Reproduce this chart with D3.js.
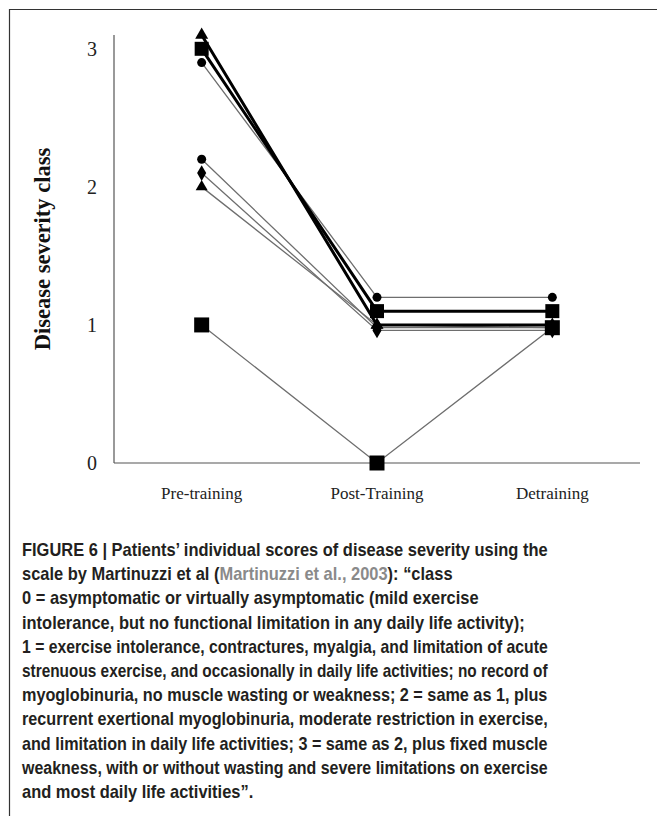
<!DOCTYPE html>
<html>
<head>
<meta charset="utf-8">
<script src="https://cdn.jsdelivr.net/npm/d3@7/dist/d3.min.js"></script>
<style>
  html, body { margin: 0; padding: 0; background: #fff; }
  svg { display: block; }
</style>
</head>
<body>
<svg id="chart" width="657" height="816"></svg>
<script>
// Phases of the training study
const phases = ["Pre-training", "Post-Training", "Detraining"];

// Severity class per patient at each phase (small offsets keep overlapping patients visible)
const patientTriangleA = [3.1, 1.0, 1.0];
const patientSquareA   = [3.0, 1.1, 1.1];
const patientCircleA   = [2.9, 1.2, 1.2];
const patientCircleB   = [2.2, 0.98, 0.98];
const patientDiamond   = [2.1, 0.96, 0.96];
const patientTriangleB = [2.0, 1.0, 0.98];
const patientSquareB   = [1.0, 0.0, 0.98];

const yTicks = [0, 1, 2, 3];

const patients = [
  { values: patientSquareB,   symbol: "square",   heavy: false, size: 15 },
  { values: patientTriangleB, symbol: "triangle", heavy: false, size: 12 },
  { values: patientDiamond,   symbol: "diamond",  heavy: false, size: 12 },
  { values: patientCircleB,   symbol: "circle",   heavy: false, size: 9 },
  { values: patientCircleA,   symbol: "circle",   heavy: false, size: 9 },
  { values: patientSquareA,   symbol: "square",   heavy: true,  size: 14 },
  { values: patientTriangleA, symbol: "triangle", heavy: true,  size: 13 }
];

// Caption lines: [text, isCitation] segments
const captionLines = [
  [["FIGURE 6 | Patients’ individual scores of disease severity using the", false]],
  [["scale by Martinuzzi et al (", false], ["Martinuzzi et al., 2003", true], ["): “class", false]],
  [["0 = asymptomatic or virtually asymptomatic (mild exercise", false]],
  [["intolerance, but no functional limitation in any daily life activity);", false]],
  [["1 = exercise intolerance, contractures, myalgia, and limitation of acute", false]],
  [["strenuous exercise, and occasionally in daily life activities; no record of", false]],
  [["myoglobinuria, no muscle wasting or weakness; 2 = same as 1, plus", false]],
  [["recurrent exertional myoglobinuria, moderate restriction in exercise,", false]],
  [["and limitation in daily life activities; 3 = same as 2, plus fixed muscle", false]],
  [["weakness, with or without wasting and severe limitations on exercise", false]],
  [["and most daily life activities”", false], [".", false]]
];

const svg = d3.select("#chart");

// Frame around the figure
svg.append("path")
  .attr("d", "M9.5,816 V9.5 H657")
  .attr("fill", "none")
  .attr("stroke", "#333")
  .attr("stroke-width", 1.2);

const x = d3.scalePoint().domain(phases).range([114, 640]).padding(0.5);
const y = d3.scaleLinear().domain([0, 3.1]).range([463, 35]);

// Axis lines
svg.append("line").attr("x1", 114).attr("x2", 114).attr("y1", y(3.1)).attr("y2", y(0))
  .attr("stroke", "#555").attr("stroke-width", 1.2);
svg.append("line").attr("x1", 114).attr("x2", 640).attr("y1", y(0)).attr("y2", y(0))
  .attr("stroke", "#555").attr("stroke-width", 1.2);

// Y tick labels
svg.append("g").selectAll("text").data(yTicks).join("text")
  .attr("x", 97)
  .attr("y", d => y(d))
  .attr("dy", "0.35em")
  .attr("text-anchor", "end")
  .attr("font-family", "'Liberation Serif', 'Times New Roman', serif")
  .attr("font-size", 20)
  .attr("fill", "#222")
  .text(d => d);

// X category labels
svg.append("g").selectAll("text").data(phases).join("text")
  .attr("x", d => x(d))
  .attr("y", 499)
  .attr("text-anchor", "middle")
  .attr("font-family", "'Liberation Serif', 'Times New Roman', serif")
  .attr("font-size", 17)
  .attr("fill", "#222")
  .text(d => d);

// Y axis title
svg.append("text")
  .attr("transform", "translate(50,249) rotate(-90)")
  .attr("text-anchor", "middle")
  .attr("font-family", "'Liberation Serif', 'Times New Roman', serif")
  .attr("font-weight", "bold")
  .attr("font-size", 22.5)
  .attr("fill", "#111")
  .text("Disease severity class");

// Patient trajectories
const line = d3.line().x((d, i) => x(phases[i])).y(d => y(d));
svg.append("g").selectAll("path").data(patients).join("path")
  .attr("d", p => line(p.values))
  .attr("fill", "none")
  .attr("stroke", p => p.heavy ? "#000" : "#6e6e6e")
  .attr("stroke-width", p => p.heavy ? 3 : 1.3);

// Markers
const symbolTypes = {
  square: d3.symbolSquare,
  triangle: d3.symbolTriangle,
  diamond: d3.symbolDiamond,
  circle: d3.symbolCircle
};
function symbolArea(p) {
  const s = p.size;
  if (p.symbol === "square") return s * s;
  if (p.symbol === "circle") return Math.PI * (s / 2) * (s / 2);
  if (p.symbol === "diamond") return s * s / 2;
  return s * s * Math.sqrt(3) / 4;
}
const markerGroup = svg.append("g");
patients.forEach(p => {
  markerGroup.selectAll(null).data(p.values).join("path")
    .attr("transform", (d, i) => `translate(${x(phases[i])},${y(d)})`)
    .attr("d", d3.symbol().type(symbolTypes[p.symbol]).size(symbolArea(p)))
    .attr("fill", "#000");
});

// Caption: a condensed bold face is emulated by narrowing the lines by a common factor
// (set so the first line fills the column), never letting a line overrun the column
const capLeft = 22, capTop = 556, capStep = 24.2, capWidth = 526;
const capTexts = captionLines.map(parts => {
  const t = svg.append("text")
    .attr("font-family", "'Liberation Sans', Arial, sans-serif")
    .attr("font-weight", "bold")
    .attr("font-size", 18)
    .attr("fill", "#231f20");
  parts.forEach(([txt, cite]) => {
    const s = t.append("tspan").text(txt);
    if (cite) s.attr("fill", "#8a8a8a");
  });
  return t;
});
const baseScale = capWidth / capTexts[0].node().getComputedTextLength();
capTexts.forEach((t, i) => {
  const w = t.node().getComputedTextLength();
  const sx = Math.min(baseScale, capWidth / w);
  t.attr("transform", `translate(${capLeft},${capTop + i * capStep}) scale(${sx},1)`);
});
</script>
</body>
</html>
